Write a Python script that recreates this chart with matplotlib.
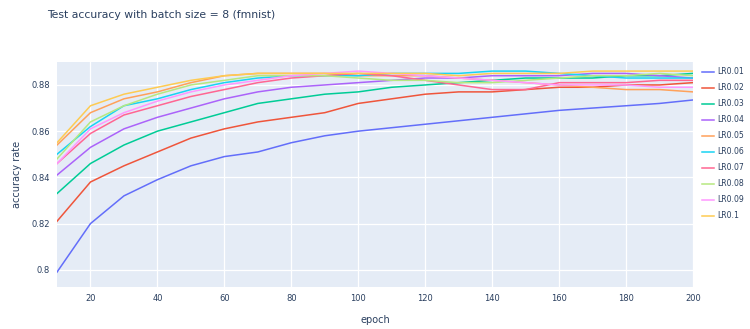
import numpy as np
import matplotlib
matplotlib.use("Agg")
import matplotlib.pyplot as plt

# epochs
epochs = list(range(10, 201, 10))

# test accuracy per learning rate
lr001 = [0.799, 0.820, 0.832, 0.839, 0.845, 0.849, 0.851, 0.855, 0.858, 0.860,
         0.8615, 0.863, 0.8645, 0.866, 0.8675, 0.869, 0.870, 0.871, 0.872, 0.8735]
lr002 = [0.821, 0.838, 0.845, 0.851, 0.857, 0.861, 0.864, 0.866, 0.868, 0.872,
         0.874, 0.876, 0.877, 0.877, 0.878, 0.879, 0.879, 0.880, 0.880, 0.881]
lr003 = [0.833, 0.846, 0.854, 0.860, 0.864, 0.868, 0.872, 0.874, 0.876, 0.877,
         0.879, 0.880, 0.881, 0.882, 0.883, 0.883, 0.883, 0.884, 0.884, 0.885]
lr004 = [0.841, 0.853, 0.861, 0.866, 0.870, 0.874, 0.877, 0.879, 0.880, 0.881,
         0.882, 0.883, 0.883, 0.884, 0.884, 0.884, 0.885, 0.885, 0.884, 0.883]
lr005 = [0.854, 0.868, 0.874, 0.877, 0.881, 0.884, 0.885, 0.885, 0.885, 0.884,
         0.884, 0.884, 0.883, 0.882, 0.881, 0.880, 0.879, 0.878, 0.878, 0.877]
lr006 = [0.850, 0.862, 0.871, 0.874, 0.878, 0.881, 0.883, 0.884, 0.884, 0.884,
         0.885, 0.885, 0.885, 0.886, 0.886, 0.885, 0.884, 0.883, 0.883, 0.883]
lr007 = [0.846, 0.859, 0.867, 0.871, 0.875, 0.878, 0.881, 0.883, 0.884, 0.885,
         0.884, 0.882, 0.880, 0.878, 0.878, 0.881, 0.881, 0.881, 0.882, 0.882]
lr008 = [0.848, 0.864, 0.871, 0.876, 0.880, 0.882, 0.884, 0.884, 0.884, 0.883,
         0.882, 0.882, 0.881, 0.881, 0.882, 0.883, 0.884, 0.884, 0.885, 0.884]
lr009 = [0.846, 0.861, 0.868, 0.873, 0.877, 0.880, 0.882, 0.884, 0.885, 0.886,
         0.885, 0.884, 0.883, 0.882, 0.881, 0.880, 0.880, 0.880, 0.879, 0.879]
lr01 = [0.855, 0.871, 0.876, 0.879, 0.882, 0.884, 0.885, 0.885, 0.885, 0.885,
        0.885, 0.885, 0.884, 0.885, 0.885, 0.885, 0.886, 0.886, 0.886, 0.886]

series = [lr001, lr002, lr003, lr004, lr005, lr006, lr007, lr008, lr009, lr01]
labels = ["LR0.01", "LR0.02", "LR0.03", "LR0.04", "LR0.05",
          "LR0.06", "LR0.07", "LR0.08", "LR0.09", "LR0.1"]
colors = ["#636EFA", "#EF553B", "#00CC96", "#AB63FA", "#FFA15A",
          "#19D3F3", "#FF6692", "#B6E880", "#FF97FF", "#FECB52"]

yticks = [0.80, 0.82, 0.84, 0.86, 0.88]
ytick_labels = ["0.8", "0.82", "0.84", "0.86", "0.88"]
xticks = list(range(20, 201, 20))

text_color = "#2a3f5f"

fig = plt.figure(figsize=(7.5, 3.29), dpi=100)
ax = fig.add_axes([0.076, 0.128, 0.848, 0.684])
ax.set_facecolor("#E5ECF6")

for y, lab, c in zip(series, labels, colors):
    ax.plot(epochs, y, color=c, lw=1.1, label=lab)

ax.set_xlim(10, 200)
ax.set_ylim(0.7926, 0.890)
ax.set_xticks(xticks)
ax.set_yticks(yticks)
ax.set_yticklabels(ytick_labels)
ax.grid(True, color="white", lw=0.9)
ax.set_axisbelow(True)
for s in ax.spines.values():
    s.set_visible(False)
ax.tick_params(length=0, labelsize=6, labelcolor=text_color, pad=5)

ax.set_xlabel("epoch", fontsize=7, color=text_color, labelpad=9)
ax.set_ylabel("accuracy rate", fontsize=7, color=text_color, labelpad=7)

fig.text(0.063, 0.955, "Test accuracy with batch size = 8 (fmnist)",
         fontsize=7.8, color=text_color, ha="left", va="center")

# legend pulled in a little so the labels are not clipped at the right edge
fig.legend(loc="upper left", bbox_to_anchor=(0.932, 0.805), frameon=False,
           fontsize=5.6, labelcolor=text_color, handlelength=1.5,
           labelspacing=0.9, borderaxespad=0, handletextpad=0.4)

fig.savefig("out.png", dpi=100)
